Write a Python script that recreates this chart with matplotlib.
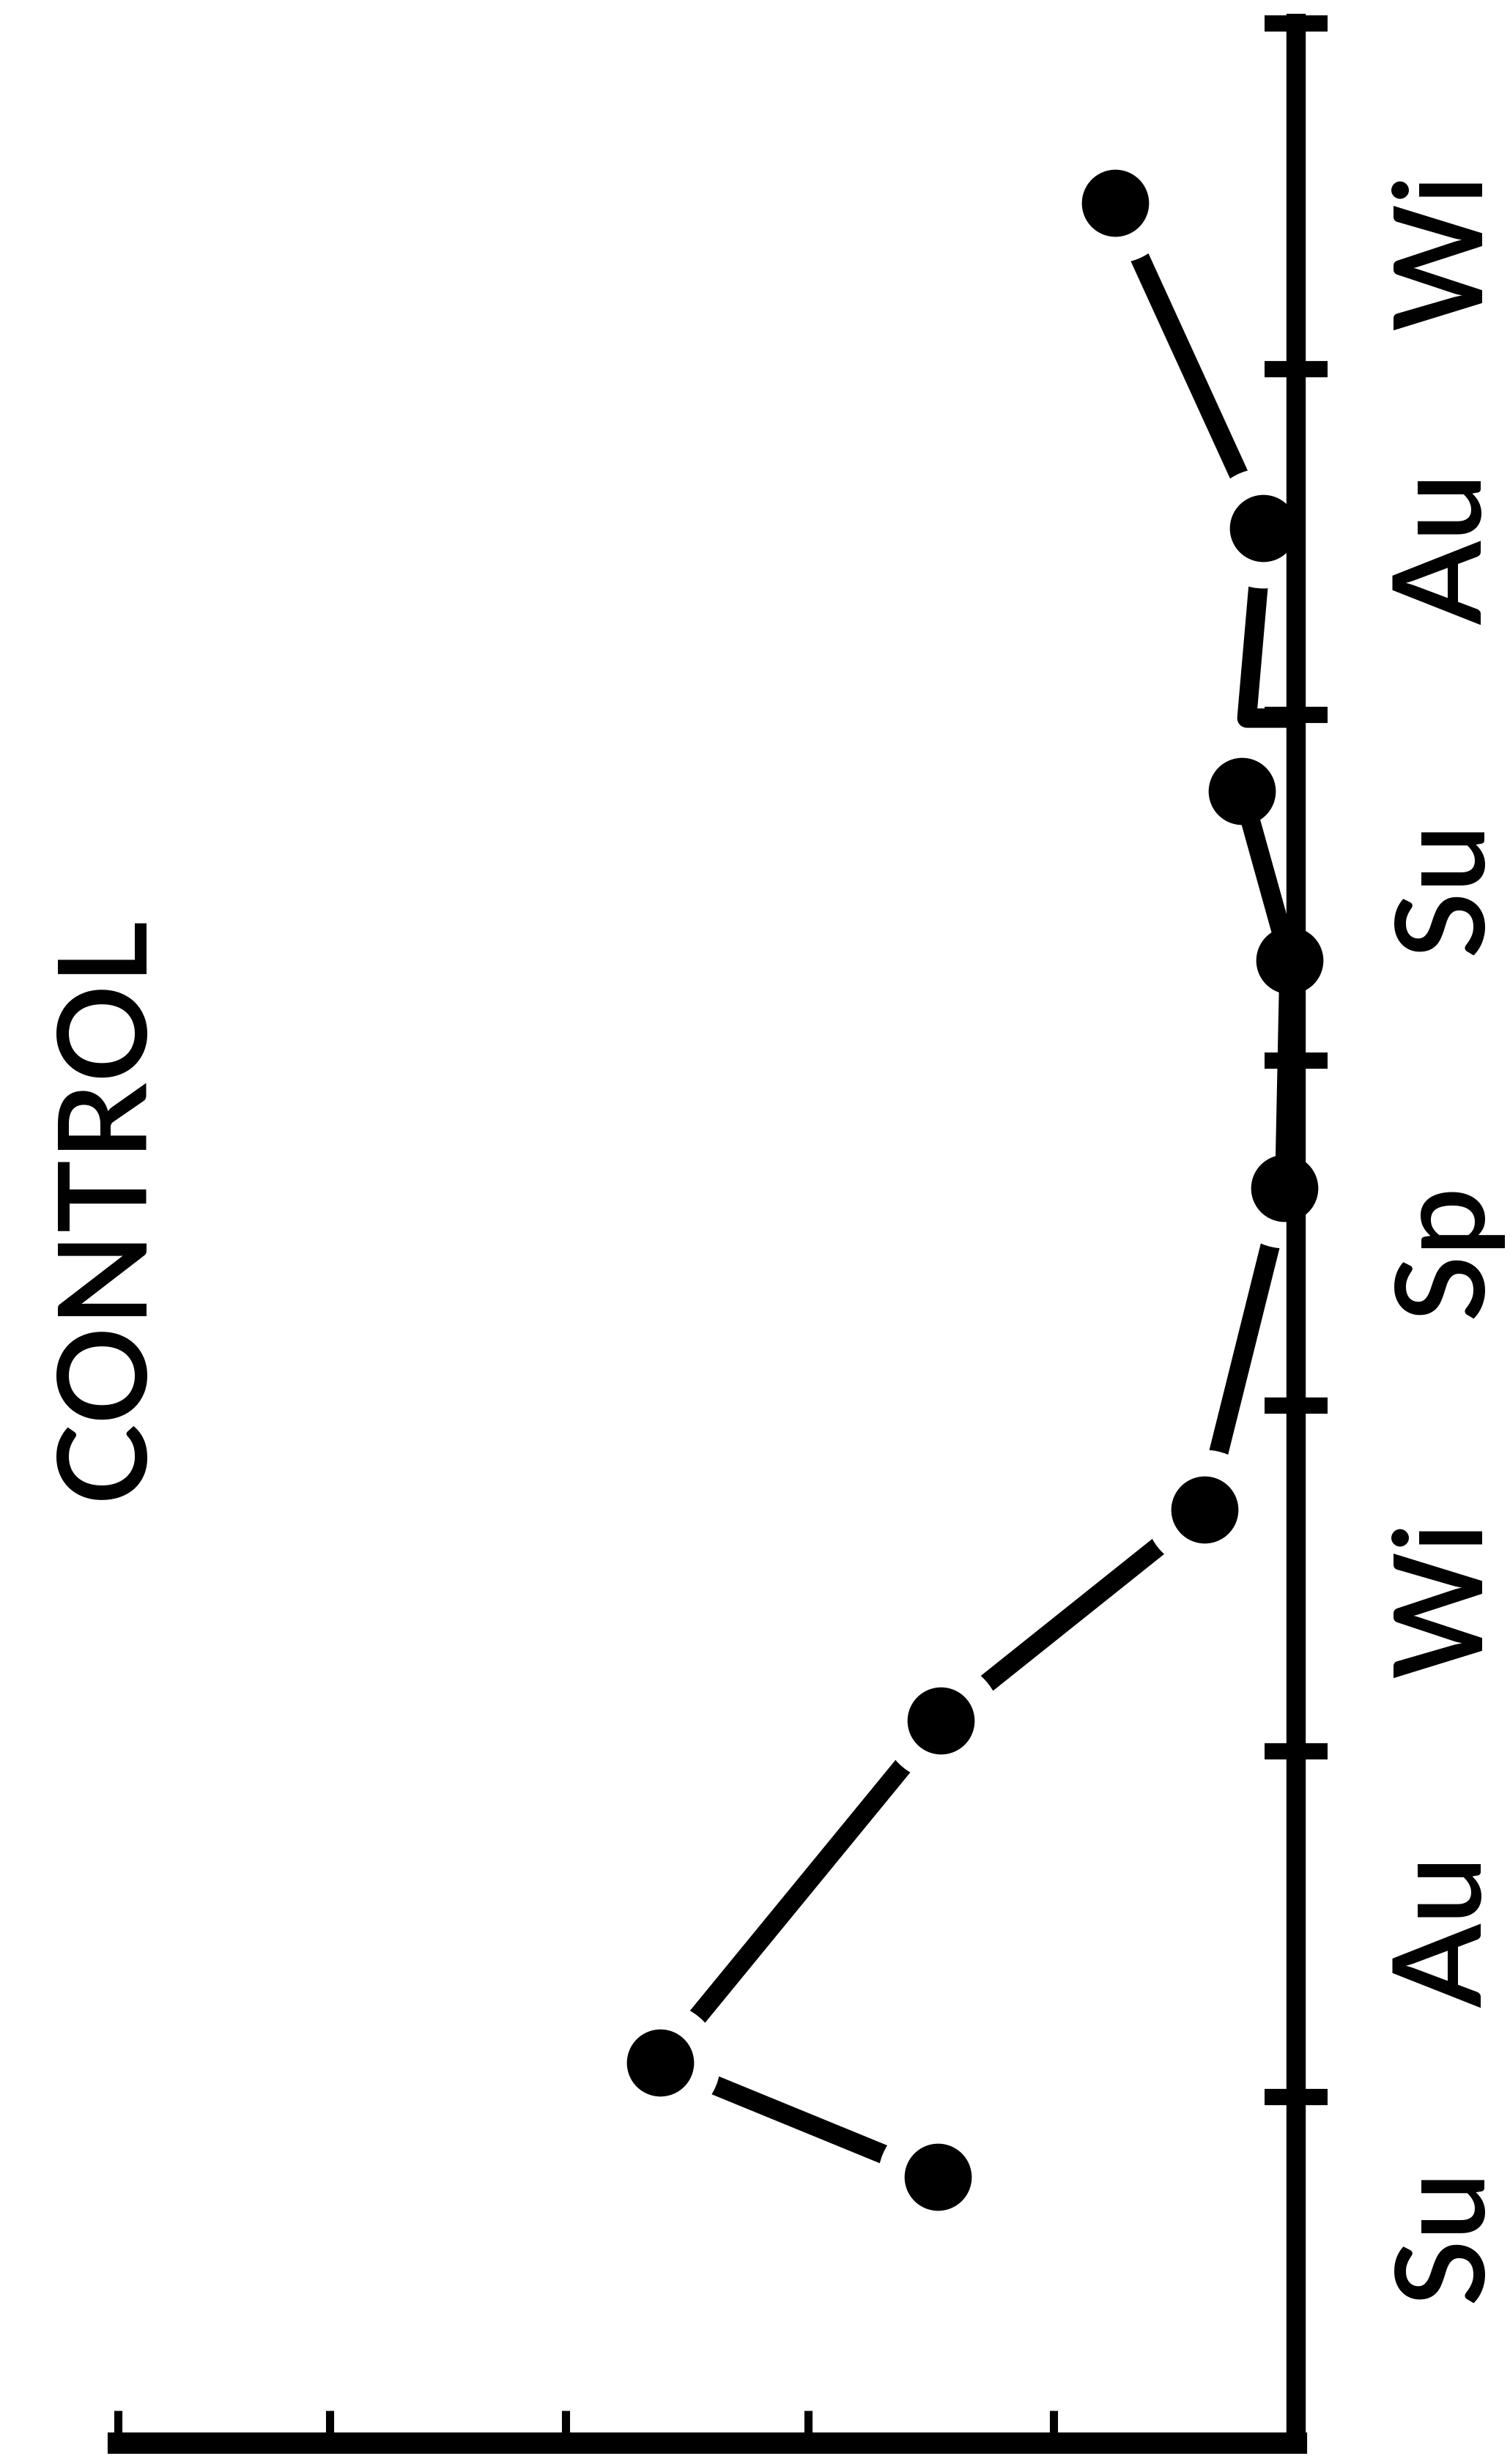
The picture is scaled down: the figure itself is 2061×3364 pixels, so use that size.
import matplotlib.pyplot as plt

# Seasons along the time axis (bottom to top)
season_labels = ['Su', 'Au', 'Wi', 'Sp', 'Su', 'Au', 'Wi']
season_pos = [0.6, 1.48, 2.44, 3.45, 4.5, 5.48, 6.34]
season_ticks = [1, 2, 3, 4, 5, 6, 7]

# Ticks along the value axis (no labels in the original)
value_ticks = [1.03, 2.07, 3.1, 4.1, 5.0]

# Control series: time (in seasons) and value
ctrl_time = [0.77, 1.10, 2.09, 2.70, 3.63, 4.29, 4.78, 5.54, 6.48]
ctrl_value = [1.52, 2.70, 1.51, 0.39, 0.05, 0.03, 0.23, 0.14, 0.77]

# hand-drawn hook from the Au point down to the axis
hook_time = [5.54, 4.99, 4.99]
hook_value = [0.14, 0.21, 0.0]

label_font = ['Lato', 'DejaVu Sans']

fig = plt.figure(figsize=(20.61, 33.64), dpi=100)
ax = fig.add_axes([0.078, 0.0086, 0.7805, 0.9819])
ax.set_xlim(5, 0)
ax.set_ylim(0, 7)
ax.set_axisbelow(False)

lw = 19
# connecting lines (gaps around the points come from white discs)
ax.plot(ctrl_value[:5], ctrl_time[:5], color='black', lw=lw, solid_capstyle='round', zorder=2)
ax.plot(ctrl_value[7:], ctrl_time[7:], color='black', lw=lw, solid_capstyle='round', zorder=2)
ax.plot(hook_value, hook_time, color='black', lw=lw, solid_capstyle='round', zorder=2)
ax.plot(ctrl_value, ctrl_time, 'o', color='white', ms=118, mew=0, zorder=2.1, clip_on=False)
# these run into the points without a gap
ax.plot(ctrl_value[4:7], ctrl_time[4:7], color='black', lw=lw, zorder=2.2)
ax.plot(ctrl_value, ctrl_time, 'o', color='black', ms=66, mew=0, zorder=2.3, clip_on=False)

# axes: only right (time) and bottom (value)
ax.spines['left'].set_visible(False)
ax.spines['top'].set_visible(False)
ax.spines['right'].set_linewidth(19)
ax.spines['bottom'].set_linewidth(21)
for side in ['right', 'bottom']:
    ax.spines[side].set_capstyle('projecting')

ax.yaxis.tick_right()
ax.set_yticks(season_ticks)
ax.tick_params(axis='y', direction='inout', length=62, width=16, labelright=False, left=False)
ax.set_xticks(value_ticks)
ax.tick_params(axis='x', direction='in', length=32, width=8, labelbottom=False)

for lab, pos in zip(season_labels, season_pos):
    ax.text(1.157, pos, lab, transform=ax.get_yaxis_transform(), rotation=90,
            rotation_mode='anchor', ha='center', va='baseline', fontsize=120,
            fontweight='semibold', family=label_font)

fig.text(0.094, 0.51, 'CONTROL', rotation=90, rotation_mode='anchor',
         ha='center', va='baseline', fontsize=120, fontweight='semibold',
         family=label_font)

fig.savefig('out.png', dpi=100, facecolor='white')
